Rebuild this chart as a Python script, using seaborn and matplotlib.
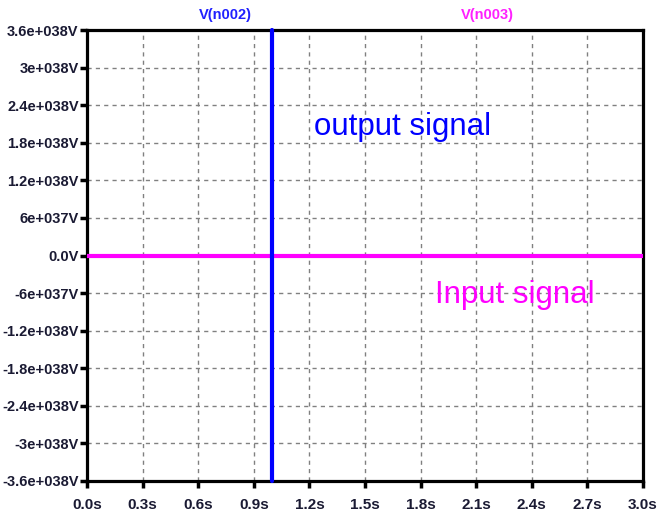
import matplotlib
matplotlib.use("Agg")
import matplotlib.pyplot as plt
import seaborn as sns
import pandas as pd
import numpy as np

# ---- data ----
time_in = [0.0, 3.0]
v_in = [0.0, 0.0]
time_out = [1.0, 1.0]
v_out = [-3.6e38, 3.6e38]

x_ticks = [0.0, 0.3, 0.6, 0.9, 1.2, 1.5, 1.8, 2.1, 2.4, 2.7, 3.0]
x_labels = ["0.0s", "0.3s", "0.6s", "0.9s", "1.2s", "1.5s", "1.8s", "2.1s", "2.4s", "2.7s", "3.0s"]
y_ticks = [3.6e38, 3.0e38, 2.4e38, 1.8e38, 1.2e38, 6e37, 0.0,
           -6e37, -1.2e38, -1.8e38, -2.4e38, -3.0e38, -3.6e38]
y_labels = ["3.6e+038V", "3e+038V", "2.4e+038V", "1.8e+038V", "1.2e+038V", "6e+037V", "0.0V",
            "-6e+037V", "-1.2e+038V", "-1.8e+038V", "-2.4e+038V", "-3e+038V", "-3.6e+038V"]

df_in = pd.DataFrame({"t": time_in, "v": v_in})
df_out = pd.DataFrame({"t": time_out, "v": v_out})

sns.set_style("white")
plt.rcParams['font.family'] = ['Liberation Sans', 'DejaVu Sans']

fig = plt.figure(figsize=(6.58, 5.13), dpi=100)
ax = fig.add_axes([87/658, 1-481/513, (643-87)/658, (481-30)/513])

sns.lineplot(data=df_in, x="t", y="v", ax=ax, color="#ff00ff", linewidth=3,
             sort=False, estimator=None, zorder=3)
sns.lineplot(data=df_out, x="t", y="v", ax=ax, color="#0000ff", linewidth=3,
             sort=False, estimator=None, zorder=4, clip_on=False)

ax.set_xlim(0, 3.0)
ax.set_ylim(-3.6e38, 3.6e38)
ax.set_xticks(x_ticks)
ax.set_xticklabels(x_labels)
ax.set_yticks(y_ticks)
ax.set_yticklabels(y_labels)
ax.set_xlabel("")
ax.set_ylabel("")

ax.grid(True, color="#808080", linestyle=(0, (3, 3)), linewidth=1)
for s in ax.spines.values():
    s.set_linewidth(2.3)
    s.set_color("black")
    s.set_visible(True)

ax.tick_params(axis="both", direction="out", length=5, width=2.5, color="black",
               labelsize=10.5, labelcolor="#1a1a33", pad=1, bottom=True, left=True)
ax.tick_params(axis="x", pad=7, labelsize=11)
for lbl in ax.get_xticklabels() + ax.get_yticklabels():
    lbl.set_fontweight("bold")

fig.text(225/658, 1-15/513, "V(n002)", color="#2020ff", fontsize=10.5, fontweight="bold",
         ha="center", va="center")
fig.text(487/658, 1-15/513, "V(n003)", color="#ff20ff", fontsize=10.5, fontweight="bold",
         ha="center", va="center")

ax.text(1.225, 2.05e38, "output signal", color="#0000ff", fontsize=22.5, ha="left", va="center", zorder=5)
ax.text(1.878, -6.3e37, "Input signal", color="#ff00ff", fontsize=22.5, ha="left", va="center", zorder=5)

fig.savefig("out.png", dpi=100)
